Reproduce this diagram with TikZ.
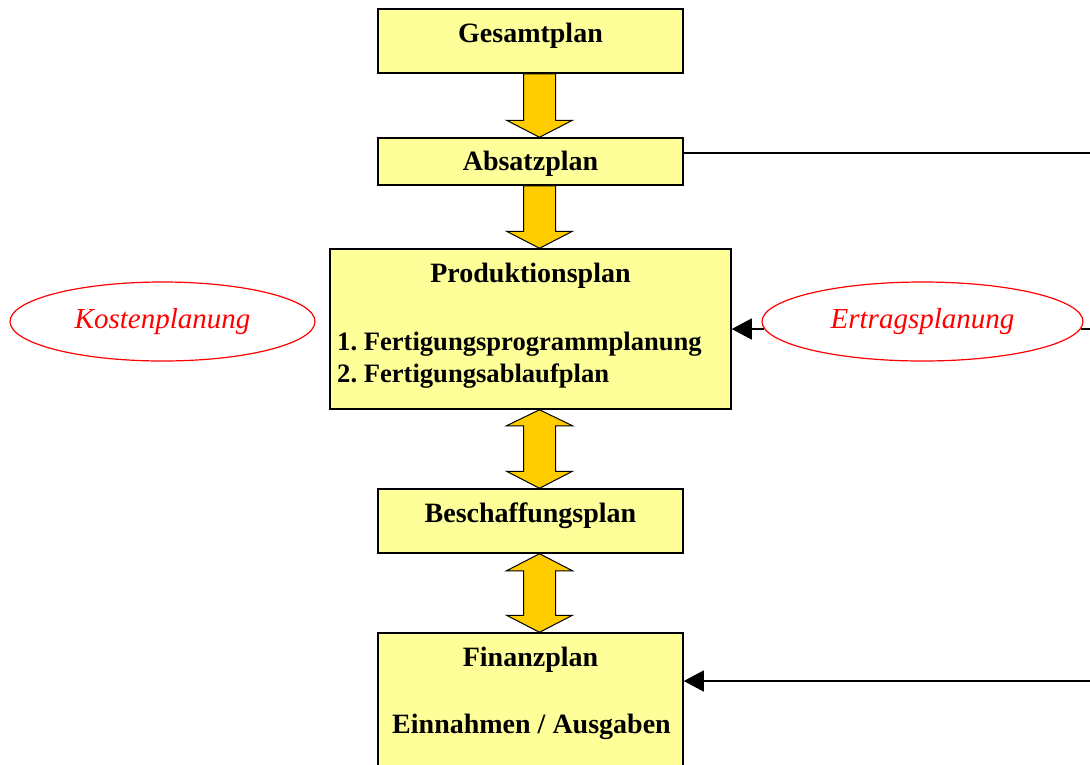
\documentclass[tikz,border=0pt]{standalone}
\usepackage{fontspec}
\setmainfont{Liberation Serif}
\usetikzlibrary{calc,arrows.meta,shapes.geometric}
\definecolor{boxfill}{HTML}{FFFF99}
\definecolor{arrfill}{HTML}{FFCC00}
\definecolor{ellred}{HTML}{FF0000}
\frenchspacing
\begin{document}
\begin{tikzpicture}[x=1pt,y=-1pt,
  planbox/.style={draw=black,line width=1.5pt,fill=boxfill,rectangle,inner sep=0pt},
  boxtext/.style={font=\fontsize{28}{32}\selectfont\bfseries,anchor=base,inner sep=0pt},
  listtext/.style={font=\fontsize{26.6}{30}\selectfont\bfseries,anchor=base west,inner sep=0pt},
  planellipse/.style={draw=ellred,line width=1.2pt,ellipse,inner sep=0pt,text=ellred,font=\fontsize{29}{33}\selectfont\itshape},
  barrow/.style={draw=black,line width=1pt,fill=arrfill,line join=miter},
  conn/.style={draw=black,line width=1.3pt},
  connarrow/.style={conn,-{Triangle[length=20pt,width=21pt]}}]
\useasboundingbox (0,0) rectangle (1090,764);
% boxes
\node[planbox,minimum width=305pt,minimum height=64pt] (g) at (530.5,41) {};
\node[planbox,minimum width=305pt,minimum height=47pt] (a) at (530.5,161.5) {};
\node[planbox,minimum width=401pt,minimum height=160pt] (p) at (530.5,329) {};
\node[planbox,minimum width=305pt,minimum height=64pt] (b) at (530.5,521) {};
\node[planbox,minimum width=305pt,minimum height=180pt] (f) at (530.5,723) {};
% texts
\node[boxtext] (gt) at (530.5,42) {Gesamtplan};
\node[boxtext] (at) at (530.5,170) {Absatzplan};
\node[boxtext] (pt) at (530.5,282) {Produktionsplan};
\node[listtext] (p1) at (337,350) {1. Fertigungsprogrammplanung};
\node[listtext] (p2) at (337,382) {2. Fertigungsablaufplan};
\node[boxtext] (bt) at (530.5,522) {Beschaffungsplan};
\node[boxtext] (ft) at (530.5,666) {Finanzplan};
\node[boxtext] (fe) at (531.5,733) {Einnahmen / Ausgaben};
% ellipses
\node[planellipse,minimum width=305pt,minimum height=79pt] (k) at (162.5,321.5) {\raisebox{-3pt}{Kostenplanung}};
\node[planellipse,minimum width=321pt,minimum height=79pt] (e) at (922.5,321.5) {\raisebox{-3pt}{Ertragsplanung}};
% block arrows (centre offset 9 to the right)
\draw[barrow] ($(g.south)+(-7,0)$) -- ($(a.north)+(-7,-17)$) -- ($(a.north)+(-24,-17)$)
  -- ($(a.north)+(9,0)$) -- ($(a.north)+(42,-17)$) -- ($(a.north)+(25,-17)$) -- ($(g.south)+(25,0)$) -- cycle;
\draw[barrow] ($(a.south)+(-7,0)$) -- ($(p.north)+(-7,-17)$) -- ($(p.north)+(-24,-17)$)
  -- ($(p.north)+(9,0)$) -- ($(p.north)+(42,-17)$) -- ($(p.north)+(25,-17)$) -- ($(a.south)+(25,0)$) -- cycle;
\draw[barrow] ($(p.south)+(9,0)$) -- ($(p.south)+(42,16)$) -- ($(p.south)+(25,16)$)
  -- ($(b.north)+(25,-17)$) -- ($(b.north)+(42,-17)$) -- ($(b.north)+(9,0)$)
  -- ($(b.north)+(-24,-17)$) -- ($(b.north)+(-7,-17)$) -- ($(p.south)+(-7,16)$) -- ($(p.south)+(-24,16)$) -- cycle;
\draw[barrow] ($(b.south)+(9,0)$) -- ($(b.south)+(42,17)$) -- ($(b.south)+(25,17)$)
  -- ($(f.north)+(25,-17)$) -- ($(f.north)+(42,-17)$) -- ($(f.north)+(9,0)$)
  -- ($(f.north)+(-24,-17)$) -- ($(f.north)+(-7,-17)$) -- ($(b.south)+(-7,17)$) -- ($(b.south)+(-24,17)$) -- cycle;
% connectors
\coordinate (r1) at (1092,153);
\coordinate (r2) at (1092,329);
\coordinate (r3) at (1092,681);
\draw[conn] (r1 -| a.east) -- (r1);
\draw[conn] ($(r2 -| e.east)+(-3,0)$) -- (r2);
\draw[connarrow] ($(p.east -| e.west)+(3,0)$) -- (p.east);
\draw[connarrow] (r3) -- (r3 -| f.east);
\end{tikzpicture}
\end{document}
